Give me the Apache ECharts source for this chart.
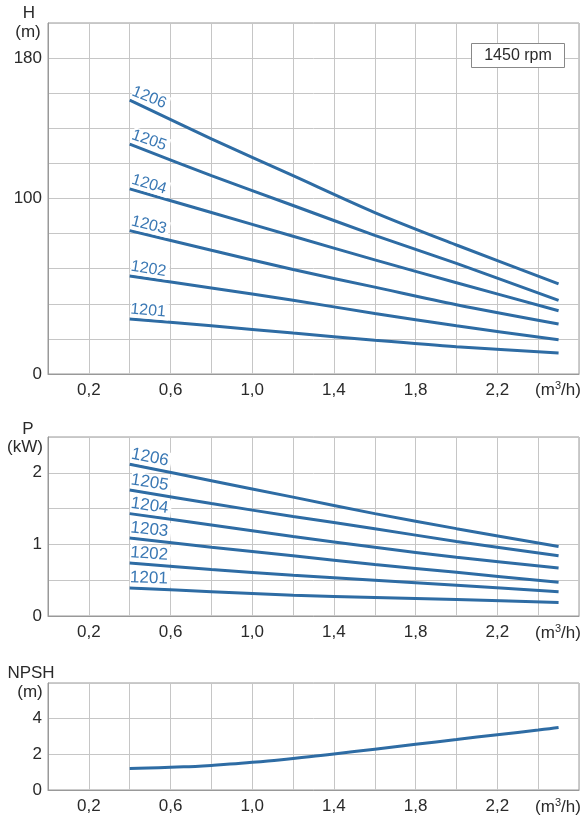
<!DOCTYPE html>
<html lang="en">
<head>
	<meta charset="UTF-8">
	<title>Pump curves 1201-1206</title>
	<script src="https://cdn.jsdelivr.net/npm/echarts@6/dist/echarts.min.js"></script>
</head>
<style>
	html, body { margin: 0; padding: 0; background: #fff; }
	#main { width: 582px; height: 819px; }
</style>
<body>
	<div id="main"></div>
	<script>
		// data
		var models = ['1201', '1202', '1203', '1204', '1205', '1206'];
		var flowQ = [0.4, 0.8, 1.2, 1.6, 2.0, 2.5];          // m3/h
		var headH = [                                         // m, per model
			[31.3, 27.5, 23.3, 19.2, 15.5, 12],
			[55.8, 49, 42, 34.5, 27.5, 19.5],
			[81.7, 70.5, 59.5, 49.5, 39.5, 28.5],
			[105.5, 92, 78.5, 65, 52, 36],
			[131, 113, 96, 79, 63, 42],
			[156, 134, 113, 92, 73.5, 51.3]
		];
		var powerP = [                                        // kW, per model
			[0.39, 0.34, 0.29, 0.26, 0.23, 0.19],
			[0.74, 0.65, 0.57, 0.50, 0.43, 0.34],
			[1.09, 0.96, 0.84, 0.72, 0.61, 0.47],
			[1.43, 1.27, 1.11, 0.96, 0.82, 0.67],
			[1.76, 1.57, 1.39, 1.22, 1.04, 0.84],
			[2.12, 1.89, 1.66, 1.43, 1.22, 0.97]
		];
		var npshQ = [0.4, 0.6, 0.8, 1.0, 1.2, 1.4, 1.6, 1.8, 2.0, 2.2, 2.4, 2.5];
		var npshV = [1.2, 1.27, 1.38, 1.55, 1.77, 2.02, 2.29, 2.56, 2.83, 3.1, 3.36, 3.5];
		// label tilt (deg) at start of each curve
		var tiltH = [5, 9, 14, 17, 19, 22];
		var tiltP = [2, 4, 6, 8, 9, 11];

		var xLabels = [0.2, 0.6, 1.0, 1.4, 1.8, 2.2];
		var hLabels = [0, 100, 180];
		var pLabels = [0, 1, 2];
		var nLabels = [0, 2, 4];

		var lineColor = '#2e6ca4';
		var textColor = '#2a2a2a';
		var font = "'Liberation Sans', Arial, sans-serif";

		var myChart = echarts.init(document.getElementById('main'));

		var pick = function (list) {
			return function (v) {
				for (var i = 0; i < list.length; i++) {
					if (Math.abs(list[i] - v) < 1e-6) return String(list[i]).replace('.', ',');
				}
				return '';
			};
		};
		var xFmt = function (v) {
			for (var i = 0; i < xLabels.length; i++) {
				if (Math.abs(xLabels[i] - v) < 1e-6) return xLabels[i].toFixed(1).replace('.', ',');
			}
			return '';
		};

		var makeX = function (idx) {
			return {
				type: 'value', gridIndex: idx, min: 0, max: 2.6, interval: 0.2,
				axisLine: { show: true, lineStyle: { color: '#999', width: 1 } },
				axisTick: { show: false },
				splitLine: { show: true, lineStyle: { color: '#c6c6c6', width: 1 } },
				axisLabel: { formatter: xFmt, color: textColor, fontSize: 17, fontFamily: font, margin: 8, showMaxLabel: true }
			};
		};
		var makeY = function (idx, max, interval, labels) {
			return {
				type: 'value', gridIndex: idx, min: 0, max: max, interval: interval,
				axisLine: { show: true, lineStyle: { color: '#999', width: 1 } },
				axisTick: { show: false },
				splitLine: { show: true, lineStyle: { color: '#c6c6c6', width: 1 } },
				axisLabel: { formatter: pick(labels), color: textColor, fontSize: 17, fontFamily: font, margin: 6 }
			};
		};

		var series = [];
		var curveSeries = function (name, vals, axisIdx, tilt, fs) {
			var data = flowQ.map(function (q, j) {
				if (j === 0) {
					return {
						value: [q, vals[j]],
						label: {
							show: true, formatter: name, position: 'top', distance: 2,
							align: 'left', verticalAlign: 'bottom', rotate: -tilt,
							color: '#3a78b4', fontSize: fs, fontFamily: font,
							backgroundColor: '#fff', padding: [0, 3, 0, 0]
						}
					};
				}
				return [q, vals[j]];
			});
			return {
				name: name, type: 'line', xAxisIndex: axisIdx, yAxisIndex: axisIdx,
				smooth: 0.3, symbol: 'circle', symbolSize: 0, data: data,
				lineStyle: { color: lineColor, width: 3 }, itemStyle: { color: lineColor },
				label: { show: false }
			};
		};
		for (var i = 0; i < models.length; i++) {
			series.push(curveSeries(models[i], headH[i], 0, tiltH[i], 16));
			series.push(curveSeries(models[i], powerP[i], 1, tiltP[i], 17));
		}
		series.push({
			name: 'NPSH', type: 'line', xAxisIndex: 2, yAxisIndex: 2, smooth: 0.6, showSymbol: false,
			data: npshQ.map(function (q, j) { return [q, npshV[j]]; }),
			lineStyle: { color: lineColor, width: 3 }
		});

		var txt = function (x, y, s) {
			return {
				type: 'text', x: x, y: y, z: 10,
				style: { text: s, fill: textColor, fontSize: 17, fontFamily: font, align: 'center', verticalAlign: 'middle' }
			};
		};
		var unit = function (y) {
			return {
				type: 'text', x: 558, y: y, z: 10,
				style: {
					text: '(m{sup|3}/h)', fill: textColor, fontSize: 17, fontFamily: font,
					align: 'center', verticalAlign: 'middle',
					rich: { sup: { fontSize: 11, fill: textColor, fontFamily: font, padding: [0, 0, 8, 0] } }
				}
			};
		};

		var option = {
			animation: false,
			backgroundColor: '#fff',
			grid: [
				{ left: 48, width: 532, top: 23, height: 351, show: true, borderColor: '#999', borderWidth: 1 },
				{ left: 48, width: 532, top: 437, height: 179, show: true, borderColor: '#999', borderWidth: 1 },
				{ left: 48, width: 532, top: 683, height: 107, show: true, borderColor: '#999', borderWidth: 1 }
			],
			xAxis: [makeX(0), makeX(1), makeX(2)],
			yAxis: [makeY(0, 200, 20, hLabels), makeY(1, 2.5, 0.5, pLabels), makeY(2, 6, 2, nLabels)],
			series: series,
			graphic: [
				txt(29, 13, 'H'), txt(28, 32, '(m)'),
				txt(28, 429, 'P'), txt(25, 447, '(kW)'),
				txt(31, 673, 'NPSH'), txt(30, 692, '(m)'),
				unit(390), unit(633), unit(807),
				{
					type: 'rect', z: 10,
					shape: { x: 471.5, y: 43.5, width: 93, height: 24 },
					style: { fill: '#fff', stroke: '#888', lineWidth: 1 }
				},
				{
					type: 'text', x: 518, y: 56, z: 11,
					style: { text: '1450 rpm', fill: textColor, fontSize: 16, fontFamily: font, align: 'center', verticalAlign: 'middle' }
				}
			]
		};
		myChart.setOption(option);
	</script>
</body>
</html>
